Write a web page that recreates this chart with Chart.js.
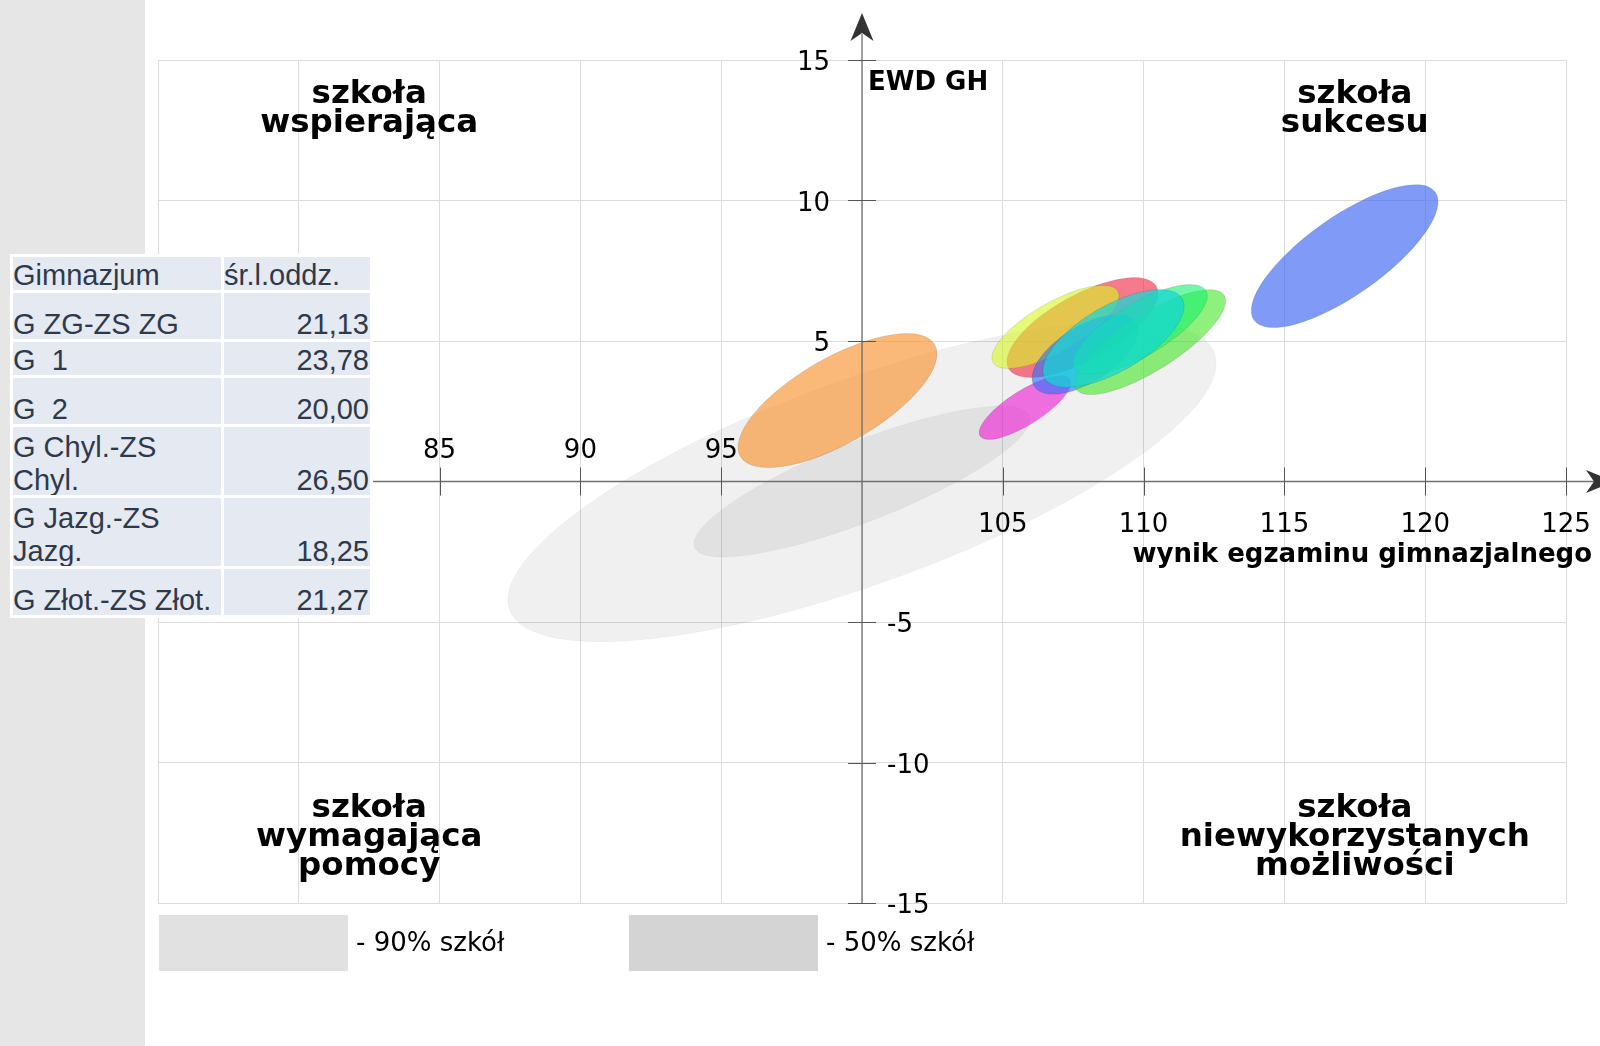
<!DOCTYPE html>
<html><head><meta charset="utf-8">
<script src="https://cdn.jsdelivr.net/npm/chart.js@4/dist/chart.umd.min.js"></script>
<style>
html,body{margin:0;padding:0;background:#fff;width:1600px;height:1046px;overflow:hidden;}
#strip{position:absolute;left:0;top:0;width:145px;height:1046px;background:#e6e6e6;}
#wrap{position:absolute;left:0;top:0;width:1600px;height:1046px;}
#tbl{position:absolute;left:10px;top:254px;background:#fff;border-collapse:separate;border-spacing:3px;font-family:"Liberation Sans",Arial,sans-serif;font-size:29px;color:#2e3a4b;table-layout:fixed;}
#tbl td{background:#e5e9f1;padding:0 1px 0 0;vertical-align:bottom;line-height:33px;white-space:pre-wrap;overflow:hidden;}
#tbl td span{position:relative;top:2px;display:block;}
#tbl td.n{text-align:right;}
</style></head>
<body>
<div id="strip"></div>
<div id="wrap"><canvas id="c" width="1600" height="1046"></canvas></div>
<table id="tbl"></table>
<script>
// ---- table data ----
const tableHeader = ["Gimnazjum", "śr.l.oddz."];
const schoolNames = ["G ZG-ZS ZG", "G  1", "G  2", "G Chyl.-ZS Chyl.", "G Jazg.-ZS Jazg.", "G Złot.-ZS Złot."];
const avgClassSize = ["21,13", "23,78", "20,00", "26,50", "18,25", "21,27"];

// ---- axes data ----
const xTickValues = [75, 80, 85, 90, 95, 100, 105, 110, 115, 120, 125];
const yTickValues = [-15, -10, -5, 0, 5, 10, 15];
const xAxisTitle = "wynik egzaminu gimnazjalnego";
const yAxisTitle = "EWD GH";
const quadrantTexts = [
  ["szkoła", "wspierająca"],
  ["szkoła", "sukcesu"],
  ["szkoła", "wymagająca", "pomocy"],
  ["szkoła", "niewykorzystanych", "możliwości"]
];

// ---- reference ranges (grey ellipses) ----
const rangeLabels = ["- 90% szkół", "- 50% szkół"];
const rangeCenterX = [100, 100];
const rangeCenterY = [0, 0];
const rangeSemiMajor = [13.32, 6.39];
const rangeSemiMinor = [3.63, 1.42];
const rangeAngle = [20, 21.4];

// ---- school ellipses ----
const schoolCenterX = [99.13, 105.79, 107.83, 106.87, 107.92, 110.23, 109.88, 108.93, 117.14];
const schoolCenterY = [2.88, 2.63, 5.48, 5.50, 4.52, 4.96, 5.41, 5.09, 8.02];
const schoolSemiMajor = [3.98, 1.89, 3.00, 2.55, 2.13, 3.11, 2.71, 2.82, 3.94];
const schoolSemiMinor = [1.52, 0.61, 1.16, 0.88, 1.00, 1.00, 0.94, 1.17, 1.39];
const schoolAngle = [29.9, 32.3, 29.0, 29.7, 32.0, 32.3, 30.6, 30.2, 35.2];

// ---- styles ----
const rangeFill = ["rgba(0,0,0,0.058)", "rgba(0,0,0,0.062)"];
const rangeLegendFill = ["#e1e1e1", "#d4d4d4"];
const schoolFill = [
  "rgba(247,147,47,0.65)", "rgba(237,40,213,0.65)", "rgba(240,40,70,0.62)",
  "rgba(215,245,40,0.62)", "rgba(40,110,255,0.6)", "rgba(70,230,40,0.6)",
  "rgba(20,240,110,0.6)", "rgba(20,215,215,0.72)", "rgba(60,100,245,0.65)"
];

// build table
(function(){
  const rowH = [33, 46, 33, 46, 68, 68, 46];
  const t = document.getElementById('tbl');
  let html = '<colgroup><col style="width:208px"><col style="width:146px"></colgroup>';
  html += '<tr style="height:' + rowH[0] + 'px"><td><span>' + tableHeader[0] + '</span></td><td><span>' + tableHeader[1] + '</span></td></tr>';
  schoolNames.forEach((n, i) => {
    html += '<tr style="height:' + rowH[i + 1] + 'px"><td><span>' + n + '</span></td><td class="n"><span>' + avgClassSize[i] + '</span></td></tr>';
  });
  t.innerHTML = html;
})();

const FONT = '"DejaVu Sans", sans-serif';
const TY = 2.5; // text vertical nudge

const overlay = {
  id: 'overlay',
  beforeDatasetsDraw(chart) {
    const ctx = chart.ctx, xs = chart.scales.x, ys = chart.scales.y, ca = chart.chartArea;
    const ux = v => xs.getPixelForValue(v), uy = v => ys.getPixelForValue(v);
    const ell = (cx, cy, a, b, ang, fill, stroke) => {
      const px = ux(cx), py = uy(cy);
      const ra = Math.abs(ux(cx + a) - px), rb = Math.abs(uy(cy + b) - py);
      ctx.beginPath();
      ctx.ellipse(px, py, ra, rb, -ang * Math.PI / 180, 0, Math.PI * 2);
      ctx.fillStyle = fill; ctx.fill();
      if (stroke) { ctx.strokeStyle = stroke; ctx.lineWidth = 1; ctx.stroke(); }
    };
    ctx.save();
    for (let i = 0; i < rangeCenterX.length; i++) {
      ell(rangeCenterX[i], rangeCenterY[i], rangeSemiMajor[i], rangeSemiMinor[i], rangeAngle[i], rangeFill[i], 'rgba(0,0,0,0.03)');
    }
    for (let i = 0; i < schoolCenterX.length; i++) {
      ell(schoolCenterX[i], schoolCenterY[i], schoolSemiMajor[i], schoolSemiMinor[i], schoolAngle[i], schoolFill[i], 'rgba(0,0,0,0.1)');
    }
    const ox = ux(100), oy = uy(0);
    ctx.strokeStyle = '#707070'; ctx.lineWidth = 1.3;
    ctx.beginPath(); ctx.moveTo(ox, uy(-15)); ctx.lineTo(ox, 34); ctx.stroke();
    ctx.beginPath(); ctx.moveTo(ux(75), oy); ctx.lineTo(1594, oy); ctx.stroke();
    ctx.fillStyle = '#333';
    ctx.beginPath(); ctx.moveTo(ox, 13); ctx.lineTo(ox + 11.5, 41); ctx.lineTo(ox, 33); ctx.lineTo(ox - 11.5, 41); ctx.closePath(); ctx.fill();
    const tipX = 1614;
    ctx.beginPath(); ctx.moveTo(tipX, oy); ctx.lineTo(tipX - 28, oy - 11.5); ctx.lineTo(tipX - 20, oy); ctx.lineTo(tipX - 28, oy + 11.5); ctx.closePath(); ctx.fill();
    ctx.strokeStyle = '#555'; ctx.lineWidth = 1;
    xTickValues.forEach(v => {
      if (v === 100) return;
      const p = Math.round(ux(v)) + 0.5;
      ctx.beginPath(); ctx.moveTo(p, oy - 14); ctx.lineTo(p, oy + 14); ctx.stroke();
    });
    yTickValues.forEach(v => {
      if (v === 0) return;
      const p = Math.round(uy(v)) + 0.5;
      ctx.beginPath(); ctx.moveTo(ox - 14, p); ctx.lineTo(ox + 14, p); ctx.stroke();
    });
    ctx.fillStyle = '#000';
    ctx.font = '26px ' + FONT;
    ctx.textBaseline = 'middle';
    xTickValues.forEach(v => {
      if (v === 100) return;
      ctx.textAlign = 'center';
      ctx.fillText(String(v), ux(v), (v < 100 ? oy - 33 : oy + 41) + TY);
    });
    yTickValues.forEach(v => {
      if (v === 0) return;
      if (v > 0) { ctx.textAlign = 'right'; ctx.fillText(String(v), ox - 32, uy(v) + 1 + TY); }
      else { ctx.textAlign = 'left'; ctx.fillText(String(v), ox + 25, uy(v) + 1 + TY); }
    });
    ctx.font = 'bold 26px ' + FONT;
    ctx.textAlign = 'left';
    ctx.fillText(yAxisTitle, ox + 6, uy(14.3) + TY + 1);
    ctx.textAlign = 'right';
    ctx.fillText(xAxisTitle, 1592, oy + 71 + TY);
    ctx.font = 'bold 32.5px ' + FONT;
    ctx.textAlign = 'center';
    const qx = [82.5, 117.5, 82.5, 117.5];
    const qy = [13.88, 13.88, -11.53, -11.53];
    quadrantTexts.forEach((lines, i) => {
      lines.forEach((s, j) => ctx.fillText(s, ux(qx[i]), uy(qy[i]) + j * 29 + TY + 0.5));
    });
    ctx.font = '26px ' + FONT;
    ctx.textAlign = 'left';
    const lx = [ca.left + 1, ca.left + 471];
    rangeLabels.forEach((s, i) => {
      ctx.fillStyle = rangeLegendFill[i];
      ctx.fillRect(lx[i], ca.bottom + 12, 189, 56);
      ctx.fillStyle = '#000';
      ctx.fillText(s, lx[i] + 197, ca.bottom + 39 + TY);
    });
    ctx.restore();
  }
};

new Chart(document.getElementById('c'), {
  type: 'scatter',
  data: { datasets: [{ data: schoolCenterX.map((v, i) => ({ x: v, y: schoolCenterY[i] })), pointRadius: 0 }] },
  options: {
    responsive: false, animation: false, devicePixelRatio: 1,
    layout: { padding: { left: 158, right: 34, top: 60, bottom: 143 } },
    plugins: { legend: { display: false }, tooltip: { enabled: false } },
    scales: {
      x: { type: 'linear', min: 75, max: 125, ticks: { display: false, stepSize: 5 },
           grid: { color: '#dcdcdc', drawTicks: false }, border: { display: false } },
      y: { type: 'linear', min: -15, max: 15, ticks: { display: false, stepSize: 5 },
           grid: { color: '#dcdcdc', drawTicks: false }, border: { display: false } }
    }
  },
  plugins: [overlay]
});
</script>
</body></html>
